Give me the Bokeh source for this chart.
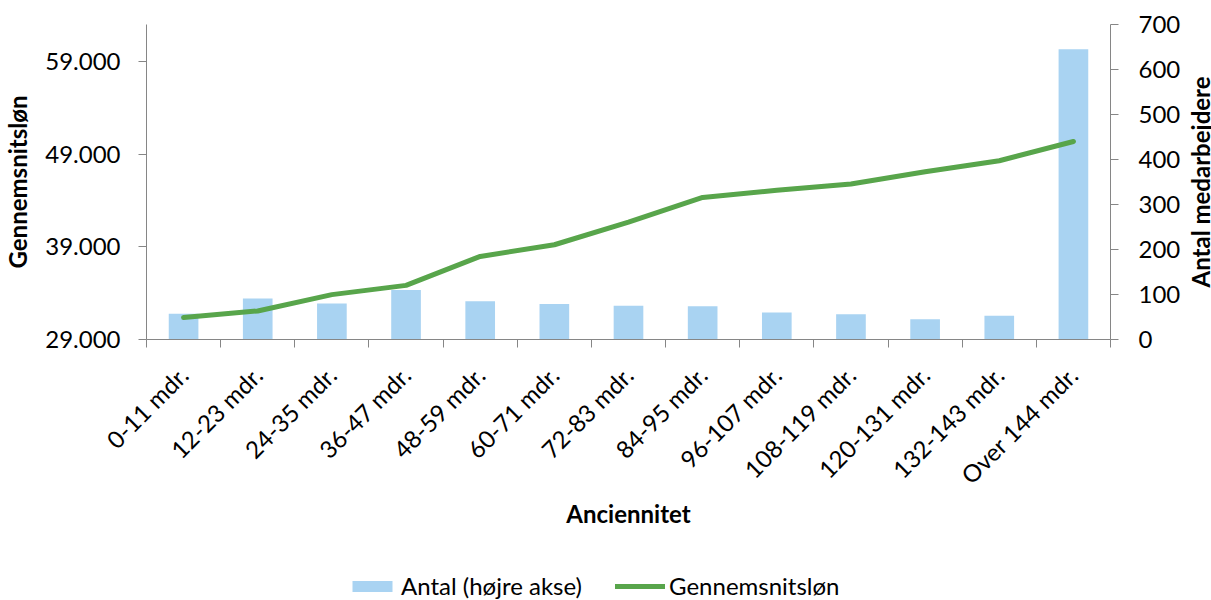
import math
from bokeh.plotting import figure
from bokeh.layouts import row, column
from bokeh.models import Range1d, LinearAxis, FixedTicker, Legend, LegendItem, Label
from bokeh.embed import file_html
from bokeh.resources import INLINE

categories = ["0-11 mdr.", "12-23 mdr.", "24-35 mdr.", "36-47 mdr.", "48-59 mdr.",
              "60-71 mdr.", "72-83 mdr.", "84-95 mdr.", "96-107 mdr.", "108-119 mdr.",
              "120-131 mdr.", "132-143 mdr.", "Over 144 mdr."]
antal = [57, 91, 80, 110, 85, 79, 75, 74, 60, 56, 45, 53, 645]
loen = [31370, 32080, 33840, 34840, 37960, 39220, 41650, 44330, 45090, 45770, 47100, 48280, 50360]
left_ticks = [29000, 39000, 49000, 59000]
left_tick_labels = ["29.000", "39.000", "49.000", "59.000"]
right_ticks = [0, 100, 200, 300, 400, 500, 600, 700]

FONT = "Lato"
AXIS_COLOR = "#868686"
BAR_COLOR = "#A9D3F2"
LINE_COLOR = "#58A54B"
TICK_FS = "24px"
TITLE_FS = "24px"

n = len(categories)
xs = [i + 0.5 for i in range(n)]
bounds = [i for i in range(n + 1)]

MAIN_H = 546
RIGHT_B = 71
right_range = Range1d(0, 700)

p = figure(x_range=Range1d(0, n), y_range=Range1d(29000, 62980),
           frame_width=964, frame_height=315,
           min_border_left=143, min_border_right=RIGHT_B, min_border_top=24,
           min_border_bottom=MAIN_H - 24 - 315,
           output_backend="svg", toolbar_location=None)
p.extra_y_ranges = {"right": right_range}
p.outline_line_color = None
p.xgrid.visible = False
p.ygrid.visible = False

bars = p.vbar(x=xs, top=antal, bottom=0, width=0.4, y_range_name="right",
              fill_color=BAR_COLOR, line_color=None)
line = p.line(x=xs, y=loen, line_color=LINE_COLOR, line_width=5,
              line_cap="round", line_join="round")

# x axis
xa = p.xaxis[0]
xa.ticker = FixedTicker(ticks=xs, minor_ticks=bounds)
xa.major_label_overrides = {x: c for x, c in zip(xs, categories)}
xa.major_label_orientation = math.pi / 4
xa.major_tick_out = 0
xa.major_tick_in = 0
xa.minor_tick_out = 8
xa.minor_tick_in = 0
xa.minor_tick_line_color = AXIS_COLOR
xa.axis_line_color = AXIS_COLOR
xa.major_label_text_font = FONT
xa.major_label_text_font_size = TICK_FS
xa.major_label_text_color = "black"
xa.major_label_standoff = 23
xa.axis_label = "Anciennitet"
xa.axis_label_text_font = FONT
xa.axis_label_text_font_style = "bold"
xa.axis_label_text_font_size = TITLE_FS
xa.axis_label_text_color = "black"
xa.axis_label_standoff = -3

# left axis
ya = p.yaxis[0]
ya.ticker = FixedTicker(ticks=left_ticks)
ya.major_label_overrides = {t: l for t, l in zip(left_ticks, left_tick_labels)}
ya.major_tick_out = 8
ya.major_tick_in = 0
ya.minor_tick_line_color = None
ya.axis_line_color = AXIS_COLOR
ya.major_tick_line_color = AXIS_COLOR
ya.major_label_text_font = FONT
ya.major_label_text_font_size = TICK_FS
ya.major_label_text_color = "black"
ya.major_label_standoff = 18
ya.axis_label = "Gennemsnitsløn"
ya.axis_label_text_font = FONT
ya.axis_label_text_font_style = "bold"
ya.axis_label_text_font_size = TITLE_FS
ya.axis_label_text_color = "black"
ya.axis_label_standoff = 10

# right axis (its title sits in the narrow panel next to the chart)
ra = LinearAxis(y_range_name="right", ticker=FixedTicker(ticks=right_ticks))
ra.major_tick_out = 8
ra.major_tick_in = 0
ra.minor_tick_line_color = None
ra.axis_line_color = AXIS_COLOR
ra.major_tick_line_color = AXIS_COLOR
ra.major_label_text_font = FONT
ra.major_label_text_font_size = TICK_FS
ra.major_label_text_color = "black"
ra.major_label_standoff = 20
p.add_layout(ra, "right")

# narrow panel with the right axis title, reading bottom-to-top;
# it shares the right-hand range so the title centres on that axis
P2_W = 1211 - 143 - 964 - RIGHT_B
p2 = figure(width=P2_W, height=MAIN_H, x_range=Range1d(0, 1), y_range=right_range,
            x_axis_type=None, y_axis_type=None, min_border=0,
            output_backend="svg", toolbar_location=None)
p2.grid.visible = False
p2.outline_line_color = None
p2.add_layout(Label(x=0.5, y=(right_range.start + right_range.end) / 2,
                    text="Antal medarbejdere", angle=math.pi / 2,
                    text_align="center", text_baseline="middle",
                    text_font=FONT, text_font_style="bold", text_font_size=TITLE_FS,
                    text_color="black"))

# legend strip under the chart; its proxy renderers draw nothing visible
LEG_H = 600 - MAIN_H
p3 = figure(width=1211, height=LEG_H, x_range=Range1d(0, n), y_range=Range1d(1e6, 1e6 + 1),
            x_axis_type=None, y_axis_type=None, min_border=0,
            output_backend="svg", toolbar_location=None)
p3.grid.visible = False
p3.outline_line_color = None
leg_bar = p3.vbar(x=xs, top=antal, bottom=0, width=0, fill_color=BAR_COLOR, line_color=None)
leg_line = p3.line(x=xs, y=loen, line_color=LINE_COLOR, line_width=5, line_cap="round")
legend = Legend(items=[LegendItem(label="Antal (højre akse)", renderers=[leg_bar]),
                       LegendItem(label="Gennemsnitsløn", renderers=[leg_line])],
                location=(347, 0), orientation="horizontal",
                border_line_color=None, background_fill_alpha=0,
                padding=0, margin=0, spacing=33, glyph_width=50, glyph_height=14,
                label_standoff=4, label_height=20,
                label_text_font=FONT, label_text_font_size="24px",
                label_text_color="black")
p3.add_layout(legend)

layout = column(row(p, p2, spacing=0), p3, spacing=0)
open("out.html", "w").write(file_html(layout, INLINE))
